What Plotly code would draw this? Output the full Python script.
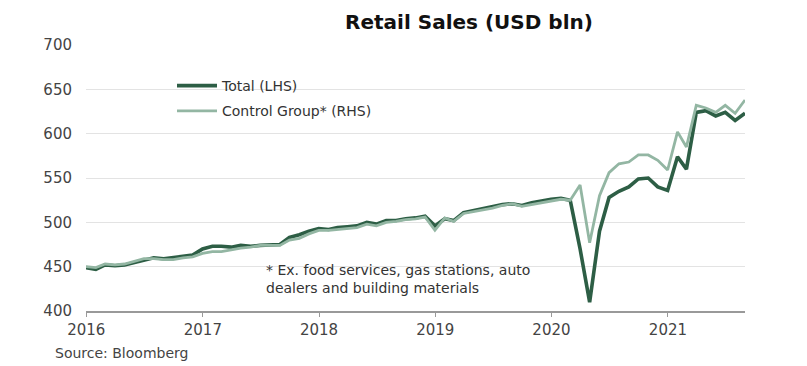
import pandas as pd
import plotly.graph_objects as go

# Month-end dates, Dec 2015 .. Aug 2021
dates = pd.date_range(start="2015-12-31", periods=69, freq="ME")

total_lhs = [
    449,
    447, 452, 451, 452, 455, 458, 460, 459, 460, 462, 463, 470,
    473, 473, 472, 474, 473, 474, 475, 475, 483, 486, 490, 493,
    492, 494, 495, 496, 500, 498, 502, 502, 504, 505, 507, 496,
    504, 502, 511, 513, 516, 518, 520, 521, 519, 522, 524, 526,
    527, 525, 470, 410, 490, 528, 535, 540, 549, 550, 540, 536,
    574, 560, 624, 626, 620, 624, 615, 623,
]

control_rhs = [
    450,
    449, 453, 452, 453, 456, 459, 459, 458, 458, 460, 461, 465,
    467, 467, 469, 471, 472, 474, 474, 474, 480, 482, 487, 491,
    491, 492, 493, 494, 498, 496, 500, 501, 503, 504, 506, 491,
    505, 501, 510, 512, 514, 516, 519, 521, 518, 520, 522, 524,
    526, 525, 542, 477, 530, 556, 566, 568, 576, 576, 570, 559,
    602, 585, 632, 629, 624, 632, 623, 638,
]

year_ticks = ["2016-01-01", "2017-01-01", "2018-01-01", "2019-01-01", "2020-01-01", "2021-01-01"]
year_labels = ["2016", "2017", "2018", "2019", "2020", "2021"]
y_ticks = [400, 450, 500, 550, 600, 650, 700]

DARK = "#2d5e45"
LIGHT = "#93b6a3"
FONT = "DejaVu Sans"

W, H = 807, 366
L, R, T, B = 86, 62, 45, 55
PW, PH = W - L - R, H - T - B

fig = go.Figure()
fig.add_trace(go.Scatter(x=dates, y=total_lhs, mode="lines", name="Total (LHS)",
                         legendgroup="a", line=dict(color=DARK, width=3.6)))
fig.add_trace(go.Scatter(x=dates, y=control_rhs, mode="lines", name="Control Group* (RHS)",
                         legendgroup="b", line=dict(color=LIGHT, width=2.8)))

fig.update_layout(
    width=W, height=H,
    margin=dict(l=L, r=R, t=T, b=B),
    paper_bgcolor="white", plot_bgcolor="white",
    font=dict(family=FONT, size=13, color="#444444"),
    title=dict(text="<b>Retail Sales (USD bln)</b>", x=469 / W, xanchor="center",
               y=1 - 22 / H, yanchor="middle",
               font=dict(family=FONT, size=20, color="#111111")),
    showlegend=True,
    legend=dict(x=(172 - L) / PW, y=(H - B - 70) / PH, xanchor="left", yanchor="top",
                bgcolor="rgba(255,255,255,0)", font=dict(family=FONT, size=14, color="#333333"),
                tracegroupgap=4, itemwidth=40),
    xaxis=dict(range=[dates[0], dates[-1]], tickvals=year_ticks, ticktext=year_labels,
               showgrid=False, showline=True, linecolor="#999999", linewidth=1.5,
               ticks="outside", ticklen=4, tickcolor="#999999", tickwidth=1,
               tickfont=dict(family=FONT, size=15, color="#444444"), zeroline=False),
    yaxis=dict(range=[400, 700], tickvals=y_ticks, showgrid=True, gridcolor="#e3e3e3",
               gridwidth=1, showline=False, zeroline=False, ticks="",
               ticklabelstandoff=13,
               tickfont=dict(family=FONT, size=15, color="#444444")),
)

fig.add_annotation(text="* Ex. food services, gas stations, auto<br>dealers and building materials",
                   xref="paper", yref="paper", x=(264 - L) / PW, y=(H - B - 260) / PH,
                   xanchor="left", yanchor="top", align="left", showarrow=False,
                   font=dict(family=FONT, size=14, color="#333333"))
fig.add_annotation(text="Source: Bloomberg", xref="paper", yref="paper",
                   x=(53 - L) / PW, y=(H - B - 353) / PH, xanchor="left", yanchor="middle",
                   showarrow=False, font=dict(family=FONT, size=14, color="#444444"))

fig.write_html("out.html", config={"displayModeBar": False},
               post_script="document.body.style.margin='0';")
